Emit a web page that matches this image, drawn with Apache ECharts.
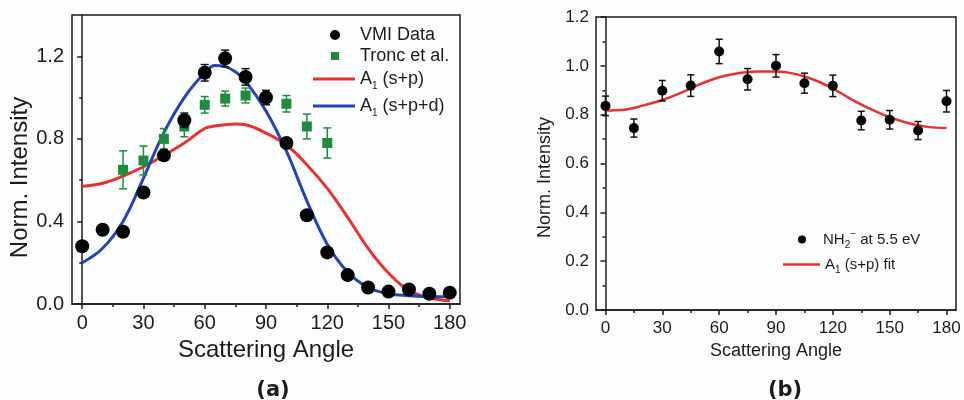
<!DOCTYPE html>
<html>
<head>
<meta charset="utf-8">
<script src="https://cdn.jsdelivr.net/npm/echarts@6/dist/echarts.min.js"></script>
<style>
  html, body { margin: 0; padding: 0; background: #fcfdfe; }
  #chart { width: 964px; height: 400px; }
</style>
</head>
<body>
<div id="chart"></div>
<script>
// ---- Panel (a): VMI angular distribution vs. Tronc et al. ----
const vmiAngles = [0, 10, 20, 30, 40, 50, 60, 70, 80, 90, 100, 110, 120, 130, 140, 150, 160, 170, 180];
const vmiValues = [0.28, 0.36, 0.35, 0.54, 0.72, 0.89, 1.12, 1.19, 1.10, 1.00, 0.78, 0.43, 0.25, 0.14, 0.08, 0.06, 0.07, 0.05, 0.055];
const vmiErrors = [0, 0, 0, 0, 0.02, 0.035, 0.04, 0.04, 0.04, 0.035, 0, 0, 0, 0, 0, 0, 0, 0, 0];

const troncAngles = [20, 30, 40, 50, 60, 70, 80, 100, 110, 120];
const troncValues = [0.65, 0.695, 0.80, 0.86, 0.965, 0.995, 1.01, 0.97, 0.86, 0.78];
const troncErrors = [0.092, 0.07, 0.05, 0.05, 0.04, 0.036, 0.036, 0.04, 0.06, 0.073];

const fitAnglesA = [0, 10, 20, 30, 40, 50, 60, 65, 70, 75, 80, 90, 100, 110, 120, 130, 140, 150, 160, 170, 180];
const fitSP  = [0.57, 0.585, 0.62, 0.665, 0.72, 0.78, 0.85, 0.862, 0.868, 0.872, 0.868, 0.828, 0.77, 0.675, 0.56, 0.42, 0.27, 0.15, 0.065, 0.03, 0.015];
const fitSPD = [0.20, 0.27, 0.40, 0.61, 0.83, 1.00, 1.12, 1.155, 1.15, 1.125, 1.08, 0.935, 0.74, 0.50, 0.29, 0.155, 0.08, 0.05, 0.04, 0.035, 0.035];

// ---- Panel (b): NH2- at 5.5 eV ----
const nh2Angles = [0, 15, 30, 45, 60, 75, 90, 105, 120, 135, 150, 165, 180];
const nh2Values = [0.836, 0.745, 0.898, 0.919, 1.059, 0.945, 1.00, 0.929, 0.918, 0.776, 0.779, 0.735, 0.855];
const nh2Errors = [0.04, 0.037, 0.042, 0.044, 0.05, 0.044, 0.046, 0.041, 0.044, 0.038, 0.038, 0.037, 0.044];

const fitAnglesB = [0, 10, 20, 30, 40, 50, 60, 70, 80, 90, 100, 110, 120, 130, 140, 150, 160, 170, 180];
const fitB = [0.817, 0.82, 0.838, 0.86, 0.89, 0.925, 0.953, 0.97, 0.977, 0.977, 0.967, 0.943, 0.907, 0.862, 0.823, 0.79, 0.765, 0.75, 0.745];

// tick positions
const angleMajor = [0, 30, 60, 90, 120, 150, 180];
const angleMinor = [15, 45, 75, 105, 135, 165];
const intensityMajorA = [0, 0.4, 0.8, 1.2];
const intensityMinorA = [0.2, 0.6, 1.0];

const FONT = '"Liberation Sans", Arial, sans-serif';
const INK = '#1c1c1c';
const RED = '#e8322b';
const BLUE = '#2244b8';
const GREEN = '#1f8c3c';

function zip(xs, ys) { return xs.map((x, i) => [x, ys[i]]); }

function errorBars(xIdx, yIdx, xs, ys, errs, color, cap, z) {
  return {
    type: 'custom', xAxisIndex: xIdx, yAxisIndex: yIdx, z: z, silent: true,
    data: xs.map((x, i) => [x, ys[i], errs[i]]).filter(d => d[2] > 0),
    renderItem: function (params, api) {
      const x = api.value(0), y = api.value(1), e = api.value(2);
      const top = api.coord([x, y + e]);
      const bot = api.coord([x, y - e]);
      const h = cap / 2;
      const st = { stroke: color, lineWidth: 1.5 };
      return {
        type: 'group',
        children: [
          { type: 'line', shape: { x1: top[0], y1: top[1], x2: bot[0], y2: bot[1] }, style: st },
          { type: 'line', shape: { x1: top[0] - h, y1: top[1], x2: top[0] + h, y2: top[1] }, style: st },
          { type: 'line', shape: { x1: bot[0] - h, y1: bot[1], x2: bot[0] + h, y2: bot[1] }, style: st }
        ]
      };
    }
  };
}

function angleAxis(grid, labelSize, margin, name, nameSize, nameGap) {
  return {
    type: 'value', gridIndex: grid, min: -5, max: 185, position: 'bottom',
    name: name, nameLocation: 'middle', nameGap: nameGap,
    nameTextStyle: { fontFamily: FONT, fontSize: nameSize, color: INK },
    axisLine: { show: true, lineStyle: { color: INK, width: 1.5 } },
    axisTick: { show: true, customValues: angleMajor, length: 5, lineStyle: { color: INK, width: 1.5 } },
    axisLabel: { customValues: angleMajor, fontFamily: FONT, fontSize: labelSize, color: INK, margin: margin },
    splitLine: { show: false }
  };
}
function angleMinorAxis(grid) {
  return {
    type: 'value', gridIndex: grid, min: -5, max: 185, position: 'bottom',
    axisLine: { show: false },
    axisTick: { show: true, customValues: angleMinor, length: 3, lineStyle: { color: INK, width: 1.5 } },
    axisLabel: { show: false },
    splitLine: { show: false }
  };
}

const subRich = {
  s: { fontSize: 10, lineHeight: 10, verticalAlign: 'bottom', fontFamily: FONT, color: INK },
  p: { fontSize: 10, lineHeight: 10, verticalAlign: 'top', fontFamily: FONT, color: INK }
};
const legendNames = {
  'A1 (s+p)': 'A{s|1} (s+p)',
  'A1 (s+p+d)': 'A{s|1} (s+p+d)',
  'A1 (s+p) fit': 'A{s|1} (s+p) fit',
  'NH2- at 5.5 eV': 'NH{s|2}{p|\u2212} at 5.5 eV'
};
// one legend block per entry so each row sits where it belongs
function legendAt(name, icon, left, top, w, h, size, textPad) {
  return {
    data: [{ name: name, icon: icon }], left: left, top: top, orient: 'vertical',
    itemWidth: w, itemHeight: h, itemGap: 0, padding: 0,
    symbolKeepAspect: false,
    selectedMode: false,
    textStyle: { fontFamily: FONT, fontSize: size, color: INK, lineHeight: size + 6,
      padding: [0, 0, 0, textPad], rich: Object.assign({}, subRich) },
    formatter: n => legendNames[n] || n
  };
}

const option = {
  animation: false,
  backgroundColor: '#fcfdfe',
  title: [
    { text: '(a)', left: 268, top: 375, textAlign: 'center',
      textStyle: { fontFamily: '"DejaVu Sans", sans-serif', fontWeight: 'bold', fontSize: 21, color: INK } },
    { text: '(b)', left: 780, top: 375, textAlign: 'center',
      textStyle: { fontFamily: '"DejaVu Sans", sans-serif', fontWeight: 'bold', fontSize: 21, color: INK } }
  ],
  legend: [
    legendAt('VMI Data', 'circle', 330, 23, 10, 10, 18, 15),
    legendAt('Tronc et al.', 'rect', 331, 44, 8, 8, 18, 16),
    legendAt('A1 (s+p)', 'rect', 313, 67, 42, 3, 18, 0),
    legendAt('A1 (s+p+d)', 'rect', 313, 94, 42, 3, 18, 0),
    legendAt('NH2- at 5.5 eV', 'circle', 798, 229, 8, 8, 15, 12),
    legendAt('A1 (s+p) fit', 'rect', 783, 254, 37, 2.5, 15, 0)
  ],
  grid: [
    { left: 72, top: 15, width: 388, height: 289, show: true, borderColor: INK, borderWidth: 1.5, backgroundColor: 'transparent' },
    { left: 596, top: 17, width: 360, height: 293, show: true, borderColor: INK, borderWidth: 1.5, backgroundColor: 'transparent' }
  ],
  xAxis: [
    angleAxis(0, 20, 9, 'Scattering Angle', 24, 30),
    angleMinorAxis(0),
    angleAxis(1, 17, 10, 'Scattering Angle', 18, 27),
    angleMinorAxis(1)
  ],
  yAxis: [
    {
      type: 'value', gridIndex: 0, min: 0, max: 1.4, position: 'left',
      name: 'Norm. Intensity', nameLocation: 'middle', nameGap: 38,
      nameTextStyle: { fontFamily: FONT, fontSize: 24, color: INK, padding: [0, 36, 0, 0] },
      axisLine: { show: true, lineStyle: { color: INK, width: 1.5 } },
      axisTick: { show: true, customValues: intensityMajorA, length: 5, lineStyle: { color: INK, width: 1.5 } },
      axisLabel: { customValues: intensityMajorA, fontFamily: FONT, fontSize: 20, color: INK, margin: 8,
        formatter: v => v.toFixed(1) },
      splitLine: { show: false }
    },
    {
      type: 'value', gridIndex: 0, min: 0, max: 1.4, position: 'left',
      axisLine: { show: false },
      axisTick: { show: true, customValues: intensityMinorA, length: 3, lineStyle: { color: INK, width: 1.5 } },
      axisLabel: { show: false },
      splitLine: { show: false }
    },
    {
      type: 'value', gridIndex: 1, min: 0, max: 1.2, interval: 0.2, position: 'left',
      name: 'Norm. Intensity', nameLocation: 'middle', nameGap: 42,
      nameTextStyle: { fontFamily: FONT, fontSize: 18, color: INK, padding: [0, 28, 0, 0] },
      axisLine: { show: true, lineStyle: { color: INK, width: 1.5 } },
      axisTick: { show: true, length: 5, lineStyle: { color: INK, width: 1.5 } },
      minorTick: { show: true, splitNumber: 2, length: 3, lineStyle: { color: INK, width: 1.5 } },
      axisLabel: { fontFamily: FONT, fontSize: 17, color: INK, margin: 7, formatter: v => v.toFixed(1) },
      splitLine: { show: false }
    }
  ],
  series: [
    {
      name: 'A1 (s+p)', type: 'line', xAxisIndex: 0, yAxisIndex: 0, z: 2,
      data: zip(fitAnglesA, fitSP), smooth: 0.4, symbol: 'none',
      lineStyle: { color: RED, width: 3 }, itemStyle: { color: RED }
    },
    {
      name: 'A1 (s+p+d)', type: 'line', xAxisIndex: 0, yAxisIndex: 0, z: 2,
      data: zip(fitAnglesA, fitSPD), smooth: 0.4, symbol: 'none',
      lineStyle: { color: BLUE, width: 3 }, itemStyle: { color: BLUE }
    },
    errorBars(0, 0, troncAngles, troncValues, troncErrors, GREEN, 8, 3),
    {
      name: 'Tronc et al.', type: 'scatter', xAxisIndex: 0, yAxisIndex: 0, z: 4,
      data: zip(troncAngles, troncValues), symbol: 'rect', symbolSize: 10,
      itemStyle: { color: GREEN, opacity: 1 }
    },
    errorBars(0, 0, vmiAngles, vmiValues, vmiErrors, '#111', 8, 5),
    {
      name: 'VMI Data', type: 'scatter', xAxisIndex: 0, yAxisIndex: 0, z: 6,
      data: zip(vmiAngles, vmiValues), symbol: 'circle', symbolSize: 14,
      itemStyle: { color: '#050505', opacity: 1 }
    },
    {
      name: 'A1 (s+p) fit', type: 'line', xAxisIndex: 2, yAxisIndex: 2, z: 2,
      data: zip(fitAnglesB, fitB), smooth: 0.4, symbol: 'none',
      lineStyle: { color: RED, width: 2.5 }, itemStyle: { color: RED }
    },
    errorBars(2, 2, nh2Angles, nh2Values, nh2Errors, '#111', 7, 3),
    {
      name: 'NH2- at 5.5 eV', type: 'scatter', xAxisIndex: 2, yAxisIndex: 2, z: 4,
      data: zip(nh2Angles, nh2Values), symbol: 'circle', symbolSize: 10,
      itemStyle: { color: '#050505', opacity: 1 }
    }
  ]
};

const chart = echarts.init(document.getElementById('chart'), null, { renderer: 'canvas' });
chart.setOption(option);
</script>
</body>
</html>
